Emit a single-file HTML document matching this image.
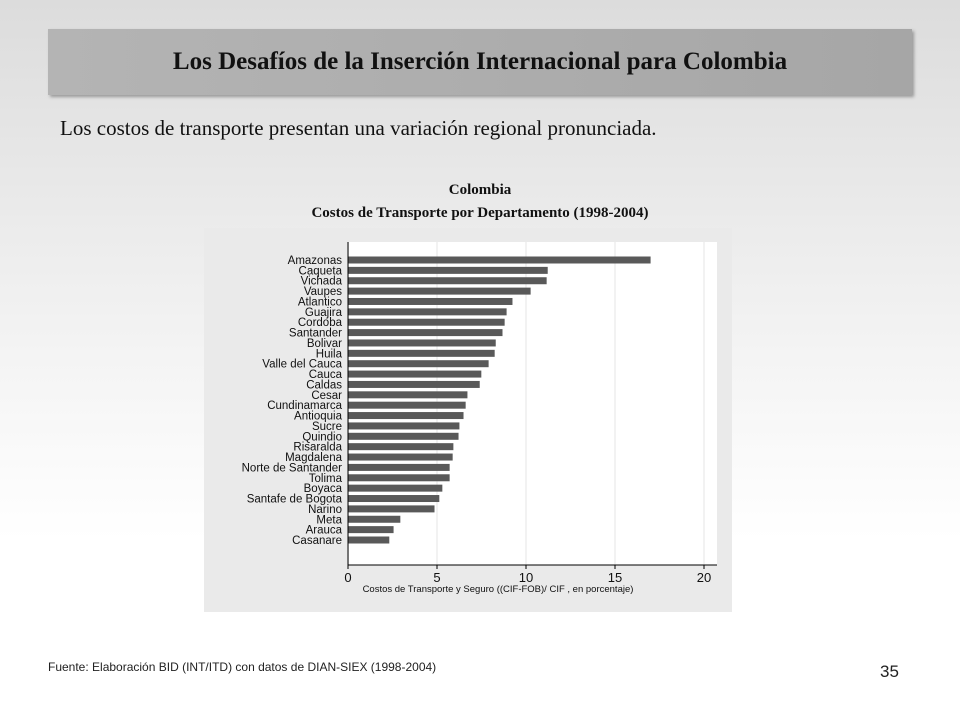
<!DOCTYPE html>
<html><head><meta charset="utf-8"><style>
body{margin:0;width:960px;height:720px;overflow:hidden;background:linear-gradient(#dcdcdc 0%,#f2f2f2 45%,#fff 75%);font-family:"Liberation Serif",serif;position:relative}
.hdr{position:absolute;left:48px;top:29px;width:864px;height:66px;background:linear-gradient(90deg,#b4b4b4,#a6a6a6);box-shadow:2px 2px 3px #999}
.hdr div{text-align:center;font-weight:bold;font-size:25px;line-height:66px;color:#111}
.sub{position:absolute;left:60px;top:116px;font-size:21px;color:#111}
.ct{position:absolute;left:0;width:960px;text-align:center;font-weight:bold;font-size:15px;color:#111}
.src{position:absolute;left:48px;top:660px;font:12px "Liberation Sans",sans-serif;color:#222}
.pg{position:absolute;left:880px;top:662px;font:17px "Liberation Sans",sans-serif;color:#222}
</style></head><body>
<div class="hdr"><div>Los Desafíos de la Inserción Internacional para Colombia</div></div>
<div class="sub">Los costos de transporte presentan una variación regional pronunciada.</div>
<div class="ct" style="top:182px">Colombia</div>
<div class="ct" style="top:205px">Costos de Transporte por Departamento (1998-2004)</div>
<svg id="chart" width="960" height="720" style="position:absolute;left:0;top:0"></svg>
<div class="src">Fuente: Elaboración BID (INT/ITD)  con datos de  DIAN-SIEX (1998-2004)</div>
<div class="pg">35</div>
<script>
const categories=["Amazonas","Caqueta","Vichada","Vaupes","Atlantico","Guajira","Cordoba","Santander","Bolivar","Huila","Valle del Cauca","Cauca","Caldas","Cesar","Cundinamarca","Antioquia","Sucre","Quindio","Risaralda","Magdalena","Norte de Santander","Tolima","Boyaca","Santafe de Bogota","Narino","Meta","Arauca","Casanare"];
const values=[17.0,11.22,11.16,10.26,9.24,8.91,8.80,8.68,8.30,8.24,7.90,7.49,7.40,6.71,6.61,6.49,6.26,6.21,5.92,5.88,5.71,5.71,5.30,5.13,4.86,2.94,2.56,2.32];
const xTicks=[0,5,10,15,20];
const NS="http://www.w3.org/2000/svg",svg=document.getElementById('chart');
function mk(t,a,p){const e=document.createElementNS(NS,t);for(const k in a)e.setAttribute(k,a[k]);(p||svg).appendChild(e);return e;}
const x0=348,x1=704,xmax=20,yTop=260,yBot=540;
const xs=v=>x0+(v/xmax)*(x1-x0);
const ys=i=>yTop+i*(yBot-yTop)/(categories.length-1);
let e=mk('rect',{x:204,y:228,width:528,height:384,fill:'#eaeaea'});

e=mk('rect',{x:349,y:242,width:368,height:323,fill:'#fff'});

xTicks.forEach(t=>{
 if(t>0){e=mk('line',{x1:xs(t),x2:xs(t),y1:242,y2:565,stroke:'#e4e4e4','stroke-width':1});
 }
 e=mk('line',{x1:xs(t),x2:xs(t),y1:565,y2:569,stroke:'#000'});
 
 e=mk('text',{x:xs(t),y:582,'text-anchor':'middle','font-family':'Liberation Sans,sans-serif','font-size':13,fill:'#111'});
 e.textContent=t;
});
categories.forEach((c,i)=>{
 e=mk('rect',{x:x0,y:ys(i)-3.5,width:xs(values[i])-x0,height:7,fill:'#595959'});
 
 e=mk('text',{x:x0-6,y:ys(i)+4,'text-anchor':'end','font-family':'Liberation Sans,sans-serif','font-size':11.5,fill:'#111'});
 e.textContent=c;
});
e=mk('line',{x1:x0,x2:x0,y1:242,y2:565,stroke:'#000'});

e=mk('line',{x1:x0,x2:717,y1:565,y2:565,stroke:'#000'});

e=mk('text',{x:x0+150,y:592,'text-anchor':'middle','font-family':'Liberation Sans,sans-serif','font-size':9.5,fill:'#111'});
e.textContent='Costos de Transporte y Seguro ((CIF-FOB)/ CIF , en porcentaje)';

</script>
</body></html>
